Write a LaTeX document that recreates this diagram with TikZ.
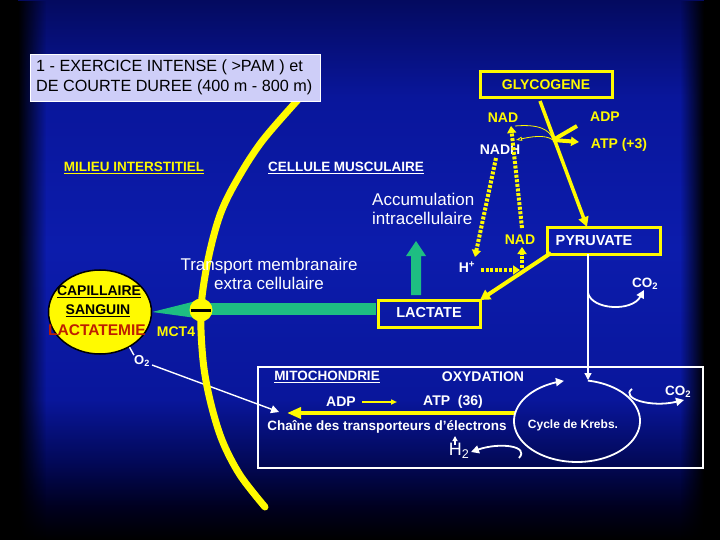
\documentclass[tikz,border=0pt]{standalone}
\usepackage{fontspec}
\setmainfont{Liberation Sans}
\usetikzlibrary{arrows.meta,fadings,shapes.geometric}
\definecolor{yel}{RGB}{255,250,0}
\definecolor{grn}{RGB}{30,190,130}
\definecolor{lav}{RGB}{206,206,248}
\definecolor{redb}{RGB}{190,30,0}
\definecolor{bgT}{RGB}{4,10,95}
\definecolor{bgM}{RGB}{9,22,155}
\definecolor{bgB}{RGB}{12,28,172}
\definecolor{bgD}{RGB}{2,8,85}
\definecolor{bgE}{RGB}{0,0,30}
\pgfdeclareverticalshading{bgv}{100bp}{color(0bp)=(black); color(25bp)=(black); color(28bp)=(bgE); color(32bp)=(bgD); color(38bp)=(bgM); color(52bp)=(bgB); color(66bp)=(bgM); color(75bp)=(bgT); color(100bp)=(bgT)}
\tikzfading[name=fadeL, left color=transparent!0, right color=transparent!100]
\tikzfading[name=fadeR, left color=transparent!100, right color=transparent!0]
\tikzset{
  ybox/.style={draw=yel, line width=3pt, inner sep=0pt},
  bY/.style={text=yel, font=\fontsize{13.5}{16}\selectfont\bfseries, inner sep=0pt},
  bW/.style={text=white, font=\fontsize{13.5}{16}\selectfont\bfseries, inner sep=0pt},
  rW/.style={text=white, font=\fontsize{17}{19}\selectfont, inner sep=0pt, align=center},
  tip/.style={-{Triangle[length=#1,width=#1]}},
  tip/.default=8pt,
  ythick/.style={yel, line width=3.5pt},
  ydots/.style={yel, line width=4pt, dash pattern=on 3pt off 1.6pt},
  wthin/.style={white, line width=1.4pt},
}
\begin{document}
\begin{tikzpicture}[x=1pt,y=-1pt]
\useasboundingbox (0,0) rectangle (720,540);
% background
\shade[shading=bgv] (0,0) rectangle (720,540);
\fill[black] (0,0) rectangle (18,540);
\fill[black, path fading=fadeL] (18,0) rectangle (46,540);
\fill[black] (704,0) rectangle (720,540);
\fill[black, path fading=fadeR] (680,0) rectangle (704,540);

% O2 line (behind membrane)
\node[text=white, font=\fontsize{13}{15}\selectfont\bfseries, inner sep=0pt] (o2) at (142,361) {O\textsubscript{2}};
\coordinate (o2end) at (279,412);
\draw[wthin, tip=8pt] (o2.east) ++(2,4) -- (o2end);

% membrane
\draw[yel, line width=7pt, line cap=round] plot[smooth, tension=0.55] coordinates {(305,92) (263,140) (237,180) (220,215) (208,260) (201,309) (203,360) (210,400) (222,440) (240,475) (265,507)};

% title
\node[draw=white, fill=lav, line width=1.2pt, minimum width=290, minimum height=47, anchor=north west] (titlebox) at (30,54) {};
\node[anchor=west, align=left, font=\fontsize{16.2}{20}\selectfont, inner sep=0pt] (title) at (36,77) {1 - EXERCICE INTENSE ( >PAM ) et\\DE COURTE DUREE (400 m - 800 m)};

% capillary
\node[ellipse, draw=black, fill=yel, line width=1.5pt, minimum width=103, minimum height=84, inner sep=0pt] (cap) at (100,312) {};
\draw[wthin] (cap.-50) -- (o2.north west);
\node[text=black, font=\fontsize{14}{16}\selectfont\bfseries, inner sep=0pt] (capt1) at (99,292) {\underline{CAPILLAIRE}};
\node[text=black, font=\fontsize{14}{16}\selectfont\bfseries, inner sep=0pt] (capt2) at (98,311) {\underline{SANGUIN}};
\node[text=redb, font=\fontsize{15.5}{17}\selectfont\bfseries, inner sep=0pt] (capt3) at (97,330) {LACTATEMIE};

% green transport
\node[ybox, minimum width=102, minimum height=27] (lact) at (429,313.5) {};
\fill[grn] (cap.east) -- (196,301) -- (196,318) -- cycle;
\fill[grn] (205,303) rectangle (376,315);
\node[circle, fill=yel, minimum size=23, inner sep=0pt] (mct) at (201,310) {};
\draw[black, line width=3pt] (mct.west) ++(1.5,0) -- ([xshift=-1.5pt]mct.east);
\fill[grn] (411,295) -- (411,256) -- (406,256) -- (416,241) -- (426,256) -- (421,256) -- (421,295) -- cycle;
\node[bY, font=\fontsize{14}{16}\selectfont\bfseries] (mct4) at (176,332) {MCT4};

% labels
\node[bY] (milieu) at (134,168) {\underline{MILIEU INTERSTITIEL}};
\node[bW] (cellule) at (346,168) {\underline{CELLULE MUSCULAIRE}};
\node[rW, align=left, anchor=west] (accu) at (372,209) {Accumulation\\intracellulaire};
\node[rW] (transp) at (269,274) {Transport membranaire\\extra cellulaire};

% glycolysis
\node[ybox, minimum width=132, minimum height=26, text=yel, font=\fontsize{14}{16}\selectfont\bfseries] (glyco) at (546,85) {GLYCOGENE};
\node[ybox, minimum width=113, minimum height=26] (pyr) at (603.5,241) {};
\node[bW, font=\fontsize{14.5}{16}\selectfont\bfseries] (pyrt) at (594,241) {PYRUVATE};
\node[bW, font=\fontsize{14.5}{16}\selectfont\bfseries] (lactt) at (429,313) {LACTATE};
\node[bY, font=\fontsize{14}{16}\selectfont\bfseries] (nad1) at (503,118) {NAD};
\node[bY, font=\fontsize{14}{16}\selectfont\bfseries] (adp1) at (605,117) {ADP};
\node[bW, font=\fontsize{14}{16}\selectfont\bfseries] (nadh) at (500,150) {NADH};
\node[bY, font=\fontsize{14}{16}\selectfont\bfseries] (atp1) at (619,145) {ATP (+3)};
\node[bY, font=\fontsize{14}{16}\selectfont\bfseries] (nad2) at (520,240) {NAD};
\node[text=white, font=\fontsize{14}{16}\selectfont\bfseries, inner sep=0pt] (hplus) at (467,267) {H\textsuperscript{+}};
\node[bW] (co2a) at (645,284) {CO\textsubscript{2}};

\coordinate (gs) at (540,101);
\coordinate (junc) at (553,140);
\coordinate (pyrtop) at (587,227);
\draw[ythick, tip=10pt] (gs) -- (pyrtop);
\coordinate (adpend) at (577,126);
\draw[yel, line width=4pt] (junc) -- (adpend);
\coordinate (atpend) at (579,142);
\draw[yel, line width=4pt, -{Triangle[length=8pt,width=9pt]}] (junc) -- (atpend);
\draw[yel, line width=0.8pt] (515,126) .. controls (538,124) and (550,129) .. (junc);
\draw[yel, line width=0.8pt, -{Triangle[open,length=6pt,width=4pt]}] (junc) .. controls (545,134) and (530,137) .. (516,140);

% dotted arrows
\coordinate (nadhs) at (496,158);
\coordinate (hpt) at (475,257);
\draw[ydots, -{Triangle[length=7pt,width=9pt]}] (nadhs) -- (hpt);
\coordinate (nad2t) at (522,228);
\coordinate (nad1b) at (511,126);
\draw[ydots, -{Triangle[length=7pt,width=9pt]}] (nad2t) -- (nad1b);
\coordinate (hpr) at (481,270);
\coordinate (hpe) at (520,270);
\draw[ydots, -{Triangle[length=7pt,width=9pt]}] (hpr) -- (hpe);
\coordinate (nadup) at (522,268);
\coordinate (nadupe) at (522,247);
\draw[ydots, -{Triangle[length=7pt,width=9pt]}] (nadup) -- (nadupe);

% pyruvate -> lactate
\coordinate (pyrbl) at (551,253);
\coordinate (lacttr) at (480,300);
\draw[yel, line width=4pt, -{Triangle[length=10pt,width=11pt]}] (pyrbl) -- (lacttr);

% pyruvate -> krebs
\coordinate (pyrb) at (588,254);
\coordinate (krebtop) at (588,380);
\draw[wthin, tip=7pt] (pyrb) -- (krebtop);
\coordinate (co2s) at (588,293);
\coordinate (co2e) at (644,290);
\draw[wthin, line width=1.8pt, tip=8pt] (co2s) .. controls (592,310) and (632,312) .. (co2e);

% mitochondrie
\node[draw=white, line width=1.8pt, minimum width=445, minimum height=101, anchor=north west, inner sep=0pt] (mito) at (257,366) {};
\node[bW] (mitot) at (327,377) {\underline{MITOCHONDRIE}};
\node[bW, font=\fontsize{14}{16}\selectfont\bfseries] (oxy) at (483,377) {OXYDATION};
\node[bW, font=\fontsize{14}{16}\selectfont\bfseries] (adp2) at (341,402) {ADP};
\node[bW, font=\fontsize{14}{16}\selectfont\bfseries] (atp2) at (453,402) {ATP\ \ (36)};
\draw[yel, line width=1.6pt, -{Triangle[length=6pt,width=5pt]}] (adp2.east) ++(6,0) -- (397,402);
\node[bW] (chaine) at (387,427) {Chaîne des transporteurs d’électrons};
\node[text=white, font=\fontsize{12}{14}\selectfont\bfseries, inner sep=0pt] (krebs) at (573,425) {Cycle de Krebs.};
\node[text=white, font=\fontsize{18}{20}\selectfont, inner sep=0pt] (h2) at (459,451) {H\textsubscript{2}};
\draw[wthin, line width=1.2pt, -{Triangle[length=5pt,width=5pt]}] (455,445) -- (455,436);
\coordinate (yls) at (515,413);
\coordinate (yle) at (287,413);
\draw[yel, line width=4pt, -{Triangle[length=14pt,width=11pt]}] (yls) -- (yle);
\draw[white, line width=1.8pt, {Triangle[length=8pt,width=8pt]}-] plot[domain=-258:80, samples=120] ({577+63*cos(\x)},{421-41*sin(\x)});
\node[bW] (co2b) at (678,392) {CO\textsubscript{2}};
\draw[white, line width=1.8pt, -{Triangle[length=8pt,width=8pt]}] (632,389) .. controls (620,398) and (650,408) .. (684,400);
\draw[white, line width=1.8pt, -{Triangle[length=8pt,width=8pt]}] (519,458) .. controls (530,446) and (500,442) .. (471,452);
\end{tikzpicture}
\end{document}
